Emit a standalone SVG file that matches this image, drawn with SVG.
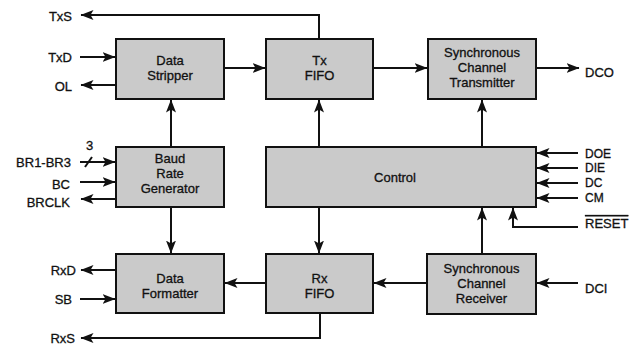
<svg xmlns="http://www.w3.org/2000/svg" width="635" height="348" viewBox="0 0 635 348">
<style>
.box{fill:#cacaca;stroke:#111;stroke-width:2}
.t{font-family:"Liberation Sans",Arial,sans-serif;font-size:13px;fill:#111;stroke:#111;stroke-width:0.3}
.s{font-size:12px}
.c{text-anchor:middle}
.r{text-anchor:end}
.ln{fill:none;stroke:#111;stroke-width:2}
.a{marker-end:url(#ah)}
</style>
<defs>
<marker id="ah" markerUnits="userSpaceOnUse" markerWidth="14" markerHeight="12" refX="12.5" refY="5.5" orient="auto">
<path d="M0,0.5 L13,5.5 L0,10.5 L3,5.5 z" fill="#111"/>
</marker>
</defs>
<rect width="635" height="348" fill="#fff"/>
<g id="connectors">
<path class="ln a" d="M319,39 V15 H81"/>
<path class="ln a" d="M80,57 H115"/>
<path class="ln a" d="M116,85 H81"/>
<path class="ln a" d="M224,68 H265"/>
<path class="ln a" d="M373,68 H427"/>
<path class="ln a" d="M536,68 H579"/>
<path class="ln a" d="M171,147 V100"/>
<path class="ln a" d="M171,207 V253"/>
<path class="ln a" d="M319,147 V100"/>
<path class="ln a" d="M319,207 V253"/>
<path class="ln a" d="M482,147 V100"/>
<path class="ln a" d="M482,254 V208"/>
<path class="ln a" d="M578,227 H513 V208"/>
<path class="ln a" d="M578,153 H537"/>
<path class="ln a" d="M578,168 H537"/>
<path class="ln a" d="M578,183 H537"/>
<path class="ln a" d="M578,198 H537"/>
<path class="ln a" d="M80,162 H115"/>
<path class="ln" d="M85,167 L92,157"/>
<path class="ln a" d="M80,182 H115"/>
<path class="ln a" d="M116,199 H81"/>
<path class="ln a" d="M116,270 H81"/>
<path class="ln a" d="M80,299 H115"/>
<path class="ln a" d="M266,283 H225"/>
<path class="ln a" d="M427,283 H374"/>
<path class="ln a" d="M578,283 H537"/>
<path class="ln a" d="M320,313 V338 H81"/>
</g>
<g id="data-stripper">
<rect class="box" x="116" y="39" width="108" height="60"/>
<text class="t c" x="170" y="65">Data</text>
<text class="t c" x="170" y="80">Stripper</text>
</g>
<g id="tx-fifo">
<rect class="box" x="266" y="39" width="107" height="60"/>
<text class="t c" x="319.5" y="65">Tx</text>
<text class="t c" x="319.5" y="80">FIFO</text>
</g>
<g id="sync-transmitter">
<rect class="box" x="428" y="39" width="108" height="60"/>
<text class="t c" x="482" y="57">Synchronous</text>
<text class="t c" x="482" y="72">Channel</text>
<text class="t c" x="482" y="87">Transmitter</text>
</g>
<g id="baud-rate-generator">
<rect class="box" x="116" y="147" width="108" height="60"/>
<text class="t c" x="170" y="163">Baud</text>
<text class="t c" x="170" y="178">Rate</text>
<text class="t c" x="170" y="193">Generator</text>
</g>
<g id="control">
<rect class="box" x="266" y="147" width="270" height="60"/>
<text class="t c" x="395" y="182">Control</text>
</g>
<g id="data-formatter">
<rect class="box" x="116" y="254" width="108" height="59"/>
<text class="t c" x="170" y="283">Data</text>
<text class="t c" x="170" y="298">Formatter</text>
</g>
<g id="rx-fifo">
<rect class="box" x="266" y="254" width="107" height="59"/>
<text class="t c" x="319.5" y="283">Rx</text>
<text class="t c" x="319.5" y="298">FIFO</text>
</g>
<g id="sync-receiver">
<rect class="box" x="427" y="254" width="109" height="60"/>
<text class="t c" x="481.5" y="273">Synchronous</text>
<text class="t c" x="481.5" y="288">Channel</text>
<text class="t c" x="481.5" y="303">Receiver</text>
</g>
<g id="labels">
<text class="t r" x="72" y="21">TxS</text>
<text class="t r" x="72" y="62">TxD</text>
<text class="t r" x="72" y="91">OL</text>
<text class="t" x="86" y="150">3</text>
<text class="t r" x="71" y="167">BR1-BR3</text>
<text class="t r" x="70" y="189">BC</text>
<text class="t r" x="70" y="207">BRCLK</text>
<text class="t r" x="76" y="275">RxD</text>
<text class="t r" x="72" y="304">SB</text>
<text class="t r" x="75" y="343">RxS</text>
<text class="t" x="585" y="77">DCO</text>
<text class="t s" x="585" y="158">DOE</text>
<text class="t s" x="585" y="172">DIE</text>
<text class="t s" x="585" y="187">DC</text>
<text class="t s" x="585" y="202">CM</text>
<text class="t" x="585" y="228" text-decoration="overline">RESET</text>
<text class="t" x="585" y="293">DCI</text>
</g>
</svg>
